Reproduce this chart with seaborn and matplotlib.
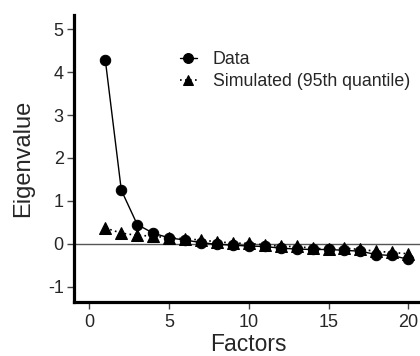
import matplotlib
matplotlib.use("Agg")
from matplotlib import pyplot as plt
import seaborn as sns
import pandas as pd

factors = list(range(1, 21))
data_eigen = [4.27, 1.25, 0.45, 0.25, 0.14, 0.09, 0.03, -0.01, -0.03, -0.05,
              -0.06, -0.10, -0.12, -0.13, -0.13, -0.15, -0.17, -0.25, -0.27, -0.36]
sim_eigen = [0.37, 0.25, 0.20, 0.18, 0.14, 0.12, 0.09, 0.05, 0.02, 0.01,
             -0.02, -0.06, -0.06, -0.10, -0.12, -0.10, -0.13, -0.17, -0.20, -0.23]

df = pd.DataFrame({"Factors": factors, "Data": data_eigen,
                   "Simulated (95th quantile)": sim_eigen})

sns.set_style("ticks")
plt.rcParams["font.family"] = ["Liberation Sans", "DejaVu Sans"]
plt.rcParams["axes.unicode_minus"] = False

fig = plt.figure(figsize=(4.2, 3.56), dpi=100)
ax = fig.add_axes([0.175, 0.152, 0.835, 0.806])

ax.axhline(0, color="#555555", lw=1.0, zorder=1)
sns.lineplot(data=df, x="Factors", y="Data", ax=ax, color="black", lw=1.0,
             marker="o", markersize=7.5, markeredgecolor="black", label="Data")
sns.lineplot(data=df, x="Factors", y="Simulated (95th quantile)", ax=ax,
             color="black", lw=1.2, linestyle=(0, (1, 2)), marker="^",
             markersize=8, markeredgecolor="black",
             label="Simulated (95th quantile)")

ax.set_xlim(-1, 21)
ax.set_ylim(-1.35, 5.33)
ax.set_xticks([0, 5, 10, 15, 20])
ax.set_yticks([-1, 0, 1, 2, 3, 4, 5])
ax.set_xlabel("Factors", fontsize=16.5, labelpad=1.5)
ax.set_ylabel("Eigenvalue", fontsize=17, labelpad=10)
ax.tick_params(labelsize=13, length=5, width=1, color="#444444")
ax.tick_params(axis="y", pad=2)
ax.tick_params(axis="x", pad=3.5)

sns.despine(ax=ax)
for side in ["left", "bottom"]:
    ax.spines[side].set_linewidth(2.3)
    ax.spines[side].set_color("black")

ax.legend(loc="upper left", bbox_to_anchor=(0.258, 0.93), frameon=False,
          fontsize=12.8, handlelength=0.95, handletextpad=0.9, labelspacing=0.3,
          markerscale=0.95)

fig.savefig("out.png", dpi=100)
